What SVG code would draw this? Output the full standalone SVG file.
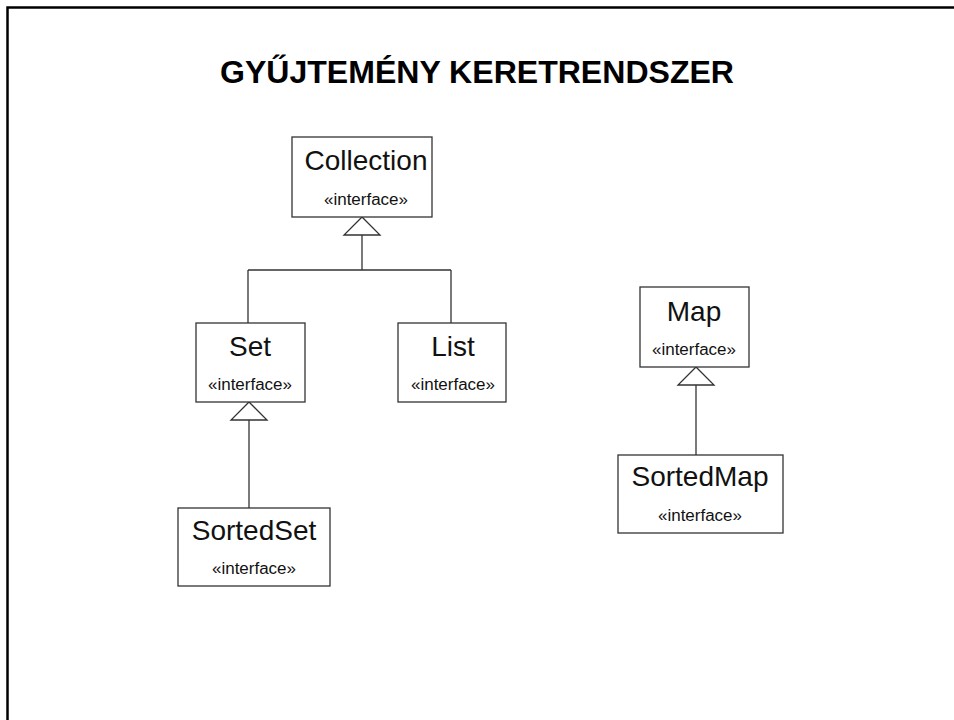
<svg xmlns="http://www.w3.org/2000/svg" width="954" height="720" viewBox="0 0 954 720">
<style>
.box{fill:#fff;stroke:#333;stroke-width:1.3}
.name{font-family:"Liberation Sans",Arial,sans-serif;font-size:28px;fill:#111;text-anchor:middle}
.st{font-family:"Liberation Sans",Arial,sans-serif;font-size:16px;fill:#111;text-anchor:middle}
.ln{fill:none;stroke:#333;stroke-width:1.3}
.tri{fill:#fff;stroke:#333;stroke-width:1.3}
</style>
<rect width="954" height="720" fill="#fff"/>
<path d="M7.5,720 V7.5 H954" fill="none" stroke="#000" stroke-width="2.5"/>
<text x="477" y="83" font-family="'Liberation Sans',Arial,sans-serif" font-weight="bold" font-size="32" text-anchor="middle" textLength="514" lengthAdjust="spacingAndGlyphs">GYŰJTEMÉNY KERETRENDSZER</text>
<g id="connectors">
<path class="ln" d="M362,235 V270 M248,270 H451 M248,270 V323 M451,270 V323"/>
<polygon class="tri" points="362,217 344,235 380,235"/>
<path class="ln" d="M249,420 V508"/>
<polygon class="tri" points="249,402 231,420 267,420"/>
<path class="ln" d="M696,385 V455"/>
<polygon class="tri" points="696,367 678,385 714,385"/>
</g>
<g id="collection">
<rect class="box" x="292" y="137" width="140" height="80"/>
<text class="name" x="366" y="170">Collection</text>
<text class="st" x="366" y="205" textLength="84" lengthAdjust="spacingAndGlyphs">«interface»</text>
</g>
<g id="set">
<rect class="box" x="196" y="323" width="109" height="79"/>
<text class="name" x="250" y="356">Set</text>
<text class="st" x="250" y="390" textLength="84" lengthAdjust="spacingAndGlyphs">«interface»</text>
</g>
<g id="list">
<rect class="box" x="398" y="323" width="108" height="79"/>
<text class="name" x="453" y="356">List</text>
<text class="st" x="453" y="390" textLength="84" lengthAdjust="spacingAndGlyphs">«interface»</text>
</g>
<g id="sortedset">
<rect class="box" x="178" y="508" width="152" height="78"/>
<text class="name" x="254" y="540">SortedSet</text>
<text class="st" x="254" y="574" textLength="84" lengthAdjust="spacingAndGlyphs">«interface»</text>
</g>
<g id="map">
<rect class="box" x="640" y="287" width="109" height="80"/>
<text class="name" x="694" y="321">Map</text>
<text class="st" x="694" y="355" textLength="84" lengthAdjust="spacingAndGlyphs">«interface»</text>
</g>
<g id="sortedmap">
<rect class="box" x="618" y="455" width="165" height="78"/>
<text class="name" x="700" y="486">SortedMap</text>
<text class="st" x="700" y="521" textLength="84" lengthAdjust="spacingAndGlyphs">«interface»</text>
</g>
</svg>
